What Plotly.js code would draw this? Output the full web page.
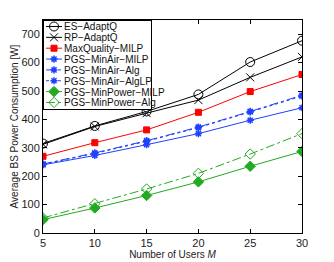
<!DOCTYPE html>
<html><head><meta charset="utf-8">
<script src="https://cdn.plot.ly/plotly-3.0.1.min.js"></script>
<style>body{margin:0;background:#fff}#c{width:334px;height:262px}</style>
</head><body><div id="c"></div>
<script>
var users = [5, 10, 15, 20, 25, 30];
var esAdaptQ = [315, 377, 428, 488, 602, 677];
var rpAdaptQ = [312, 375, 422, 468, 548, 620];
var maxQualityMILP = [270, 318, 363, 425, 498, 558];
var pgsMinAirMILP = [240, 273, 311, 350, 397, 441];
var pgsMinAirAlg = [243, 282, 325, 373, 428, 485];
var pgsMinAirAlgLP = [242, 280, 323, 371, 426, 482];
var pgsMinPowerMILP = [47, 88, 132, 180, 235, 287];
var pgsMinPowerAlg = [53, 103, 155, 210, 278, 350];
var names = ['ES\u2212AdaptQ','RP\u2212AdaptQ','MaxQuality\u2212MILP','PGS\u2212MinAir\u2212MILP','PGS\u2212MinAir\u2212Alg','PGS\u2212MinAir\u2212AlgLP','PGS\u2212MinPower\u2212MILP','PGS\u2212MinPower\u2212Alg'];
var xTicks = [5, 10, 15, 20, 25, 30];
var yTicks = [0, 100, 200, 300, 400, 500, 600, 700];

var black = '#000000', red = '#ff0000', blue = '#2040ff', green = '#22aa22';
function tr(y, name, color, dash, sym, size, mcolor) {
  return {x: users, y: y, name: name, type: 'scatter', mode: 'lines+markers',
    line: {color: color, width: 1, dash: dash},
    marker: {symbol: sym, size: size, color: mcolor || color, line: {color: color, width: 1}}};
}
var data = [
  tr(esAdaptQ, names[0], black, 'solid', 'circle-open', 9),
  tr(rpAdaptQ, names[1], black, 'solid', 'x-thin-open', 8),
  tr(maxQualityMILP, names[2], red, 'solid', 'square', 6),
  tr(pgsMinAirMILP, names[3], blue, 'solid', 'asterisk-open', 6),
  tr(pgsMinAirAlg, names[4], blue, 'dashdot', 'asterisk-open', 6),
  tr(pgsMinAirAlgLP, names[5], blue, 'dot', 'asterisk-open', 6),
  tr(pgsMinPowerMILP, names[6], green, 'solid', 'diamond', 8),
  tr(pgsMinPowerAlg, names[7], green, 'dashdot', 'diamond-open', 8)
];
data[3].marker.line.width = 1.5; data[4].marker.line.width = 1.5; data[5].marker.line.width = 1.5;

var ax = {showgrid: false, zeroline: false, showline: true, linecolor: '#000', linewidth: 1,
  mirror: 'ticks', ticks: 'inside', ticklen: 4, tickcolor: '#000',
  tickfont: {family: 'Liberation Sans, Arial, sans-serif', size: 11, color: '#222'}};
var layout = {
  width: 334, height: 262,
  margin: {l: 43, r: 32, t: 20, b: 29},
  paper_bgcolor: '#fff', plot_bgcolor: '#fff',
  font: {family: 'Liberation Sans, Arial, sans-serif', size: 11, color: '#222'},
  xaxis: Object.assign({}, ax, {range: [5, 30], tickvals: xTicks,
    title: {text: 'Number of Users <i>M</i>', standoff: 0, font: {size: 10}}}),
  yaxis: Object.assign({}, ax, {range: [0, 750], tickvals: yTicks,
    title: {text: 'Average BS Power Consumption [W]', standoff: 0, font: {size: 10}}}),
  showlegend: true,
  legend: {x: 0, y: 1, xanchor: 'left', yanchor: 'top', bgcolor: '#fff',
    bordercolor: '#000', borderwidth: 1, font: {size: 10, color: '#111'}, itemwidth: 30, tracegroupgap: 0}
};
Plotly.newPlot('c', data, layout, {staticPlot: true}).then(function(gd){
  var step = 10.85;
  var items = gd.querySelectorAll('.legend .traces');
  items.forEach(function(g, i){
    g.setAttribute('transform', 'translate(1,' + (6.5 + i*step) + ')');
    var t = g.querySelector('text.legendtext');
    if (t) t.setAttribute('x', '20');
    var lines = g.querySelectorAll('.legendlines path');
    lines.forEach(function(p){ p.setAttribute('d', 'M2,0h16'); });
    var pts = g.querySelectorAll('.legendpoints path');
    pts.forEach(function(p){
      var tf = p.getAttribute('transform') || '';
      p.setAttribute('transform', tf.replace(/translate\([^)]*\)/, 'translate(10,0)'));
    });
    var bg = g.querySelector('rect.legendtoggle');
    if (bg) bg.setAttribute('height', step);
  });
  var rect = gd.querySelector('.legend rect.bg');
  if (rect) { rect.setAttribute('height', (8*step + 2).toFixed(1)); rect.setAttribute('width', '108'); }
});
</script></body></html>
